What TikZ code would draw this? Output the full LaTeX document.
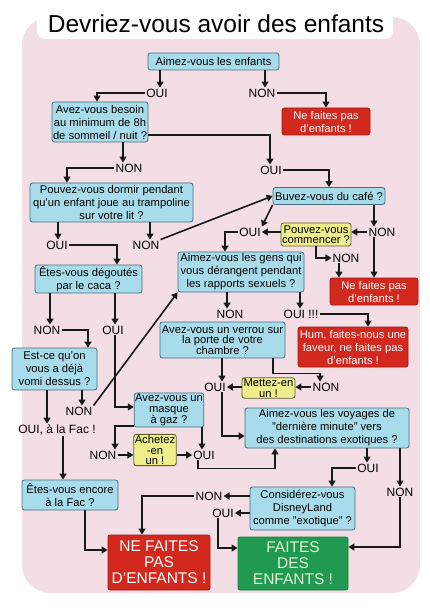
\documentclass[tikz,border=0pt]{standalone}
\usepackage{fontspec}
\setmainfont{Liberation Sans}
\usetikzlibrary{arrows.meta,positioning}

\definecolor{bgpink}{RGB}{243,222,229}
\definecolor{qblue}{RGB}{168,220,235}
\definecolor{qedge}{RGB}{70,110,125}
\definecolor{yfill}{RGB}{240,238,140}
\definecolor{yedge}{RGB}{95,95,45}
\definecolor{rfill}{RGB}{211,40,30}
\definecolor{redge}{RGB}{160,25,18}
\definecolor{gfill}{RGB}{32,154,80}
\definecolor{gtext}{RGB}{226,245,214}

\begin{document}
\begin{tikzpicture}[x=1pt, y=-1pt,
    every node/.style={align=center, inner sep=1pt, font=\fontsize{11.2}{13}\selectfont},
    qbox/.style={draw=qedge, fill=qblue, line width=0.8pt, rounded corners=2.5pt},
    ybox/.style={draw=yedge, fill=yfill, line width=0.8pt, rounded corners=2.5pt},
    rbox/.style={draw=redge, fill=rfill, line width=0.8pt, rounded corners=2.5pt, text=white},
    bigno/.style={draw=redge, fill=rfill, line width=0.8pt, rounded corners=2pt, text=white,
                  font=\fontsize{15.5}{16}\selectfont},
    bigyes/.style={draw=gfill!80!black, fill=gfill, line width=0.8pt, rounded corners=2pt, text=gtext,
                   font=\fontsize{15.5}{16}\selectfont},
    ans/.style={font=\fontsize{12}{14}\selectfont},
    tight/.style={font=\fontsize{11.2}{10.5}\selectfont},
    arrow/.style={-{Triangle[length=6pt,width=7pt]}, line width=1.6pt, black!90}
]
\useasboundingbox (0,0) rectangle (430,609);
\fill[bgpink, rounded corners=28pt] (22,17) rectangle (420,593);
\fill[white, rounded corners=8pt] (37,4) rectangle (393,39);
\node[font=\fontsize{24.5}{28}\selectfont] (title) at (216,24) {Devriez-vous avoir des enfants};

\node[qbox, minimum width=131pt, minimum height=17pt] (aimez) at (213.5,61.5) {Aimez-vous les enfants};
\node[ans] (oui1) at (157,93) {OUI};
\node[ans] (non1) at (262,93) {NON};
\node[rbox, minimum width=88pt, minimum height=27pt] (nepas1) at (326,121.5) {Ne faites pas\\d'enfants !};
\node[qbox, minimum width=96pt, minimum height=40pt] (besoin) at (100,122) {Avez-vous besoin\\au minimum de 8h\\de sommeil / nuit ?};
\node[ans] (non2) at (129,168) {NON};
\node[ans] (oui2) at (271,170) {OUI};
\node[qbox, minimum width=163pt, minimum height=39pt] (dormir) at (111.5,202.5) {Pouvez-vous dormir pendant\\qu'un enfant joue au trampoline\\sur votre lit ?};
\node[qbox, minimum width=112pt, minimum height=17pt] (cafe) at (329,196) {Buvez-vous du café ?};
\node[ybox, minimum width=68pt, minimum height=23pt, tight] (commencer) at (316,234.5) {Pouvez-vous\\commencer ?};
\node[ans] (oui3) at (57,245) {OUI};
\node[ans] (non3) at (146,245) {NON};
\node[ans] (oui4) at (250,232) {OUI};
\node[ans] (non4) at (382,232) {NON};
\node[ans] (non5) at (346,258) {NON};
\node[rbox, minimum width=88pt, minimum height=27pt] (nepas2) at (374,291.5) {Ne faites pas\\d'enfants !};
\node[qbox, minimum width=107pt, minimum height=28pt] (caca) at (88.5,279) {Êtes-vous dégoutés\\par le caca ?};
\node[qbox, minimum width=126pt, minimum height=40pt] (gens) at (241,272) {Aimez-vous les gens qui\\vous dérangent pendant\\les rapports sexuels ?};
\node[ans] (non6) at (47,330) {NON};
\node[ans] (oui5) at (113,330) {OUI};
\node[ans] (non7) at (230,314) {NON};
\node[ans] (oui6) at (301,314) {OUI !!!};
\node[rbox, minimum width=110pt, minimum height=40pt] (hum) at (353,347) {Hum, faites-nous une\\faveur, ne faites pas\\d'enfants !};
\node[qbox, minimum width=125pt, minimum height=36pt, tight] (verrou) at (222.5,340) {Avez-vous un verrou sur\\la porte de votre\\chambre ?};
\node[qbox, minimum width=85pt, minimum height=42pt] (vomi) at (54.5,369) {Est-ce qu'on\\vous a déjà\\vomi dessus ?};
\node[ans] (oui7) at (215,387) {OUI};
\node[ybox, minimum width=53pt, minimum height=20pt, tight] (mettez) at (268.5,388) {Mettez-en\\un !};
\node[ans] (non8) at (326,387) {NON};
\node[ans] (non9) at (79,411) {NON};
\node[qbox, minimum width=68pt, minimum height=33pt, tight] (masque) at (169,410) {Avez-vous un\\masque\\à gaz ?};
\node[qbox, minimum width=164pt, minimum height=40pt] (voyages) at (327,428) {Aimez-vous les voyages de\\"dernière minute" vers\\des destinations exotiques ?};
\node[ans] (fac) at (57,430) {OUI, à la Fac !};
\node[ans] (non10) at (103,455) {NON};
\node[ybox, minimum width=40pt, minimum height=30pt, tight] (achetez) at (155,450) {Achetez\\-en\\un !};
\node[ans] (oui8) at (204,455) {OUI};
\node[ans] (oui9) at (368,468) {OUI};
\node[ans] (non11) at (400,492) {NON};
\node[qbox, minimum width=96pt, minimum height=30pt] (encore) at (70,495) {Êtes-vous encore\\à la Fac ?};
\node[qbox, minimum width=105pt, minimum height=43pt] (disney) at (302.5,508.5) {Considérez-vous\\DisneyLand\\comme "exotique" ?};
\node[ans] (non12) at (209,496) {NON};
\node[ans] (oui10) at (223,513) {OUI};
\node[bigno, minimum width=102pt, minimum height=55pt] (nefaites) at (159,562.5) {NE FAITES\\PAS\\D'ENFANTS !};
\node[bigyes, minimum width=110pt, minimum height=53pt] (faites) at (293,563.5) {FAITES\\DES\\ENFANTS !};

% straight drops from a question to its answers
\foreach \b/\x/\a in {aimez/160/oui1, aimez/265/non1, besoin/123/non2, dormir/58/oui3,
    dormir/150/non3, cafe/374/non4, caca/50/non6, caca/115/oui5, vomi/47/fac, vomi/82/non9,
    gens/227/non7, gens/300/oui6, verrou/222/oui7, masque/202/oui8, voyages/367/oui9,
    voyages/400/non11, fac/63/encore}
    \draw[arrow] (\b.south -| \x,0) -- (\x,0 |- \a.north);

\draw[arrow] (oui1.west) -| (besoin.north -| 97,0);
\draw[arrow] (non1.east) -| (nepas1.north);
\draw[arrow] ([yshift=-13pt]besoin.east) -| (oui2.north -| 270,0);
\draw[arrow] (oui2.east) -| (cafe.north);
\draw[arrow] (non2.west) -| (dormir.north -| 67,0);
\draw[arrow] (oui3.east) -| (caca.north -| 117,0);
\draw[arrow] (non3.north east) -- (cafe.west);
\draw[arrow] (cafe.south west) -- (oui4.north east);
\draw[arrow] (non4.west) -- (non4.west -| commencer.east);
\draw[arrow] (oui4.east -| commencer.west) -- (oui4.east);
\draw[arrow] (oui4.west) -| (gens.north -| 225,0);
\draw[arrow] (commencer.south) |- (non5.west);
\draw[arrow] (non5.south -| 339,0) -- (339,0 |- nepas2.north);
\draw[arrow] (non4.south -| 374,0) -- (374,0 |- nepas2.north);
\draw[arrow] (non6.east) -| (vomi.north -| 88,0);
\draw[arrow] (oui5.south -| 115,0) |- ([yshift=3pt]masque.west);
\draw[arrow] (non9.north east) -- (gens.south west);
\draw[arrow] (oui6.east) -| (hum.north -| 368,0);
\draw[arrow] (verrou.south -| 273,0) -- ++(0,15) -| (non8.north -| 320,0);
\draw[arrow] (non8.west) -- (non8.west -| mettez.east);
\draw[arrow] (oui7.east -| mettez.west) -- (oui7.east);
\draw[arrow] (oui7.south -| 222,0) |- ([yshift=-8pt]voyages.west);
\draw[arrow] ([yshift=-16pt]masque.west) -| (non10.north -| 115,0);
\draw[arrow] (non10.east) -- (non10.east -| achetez.west);
\draw[arrow] (oui8.west -| achetez.east) -- (oui8.west);
\draw[arrow] (oui8.south -| 198,0) -- ++(0,8) -| (voyages.south -| 275,0);
\draw[arrow] (oui9.west) -| (disney.north -| 332,0);
\draw[arrow] (non11.south) |- ([yshift=16.5pt]faites.east);
\draw[arrow] (non12.east -| disney.west) -- (non12.east);
\draw[arrow] (oui10.east -| disney.west) -- (oui10.east);
\draw[arrow] (non12.west) -| (nefaites.north -| 142,0);
\draw[arrow] (oui10.south -| 218,0) |- ([yshift=15.5pt]faites.west);
\draw[arrow] (encore.south -| 85,0) |- ([yshift=12.5pt]nefaites.west);
\end{tikzpicture}
\end{document}
